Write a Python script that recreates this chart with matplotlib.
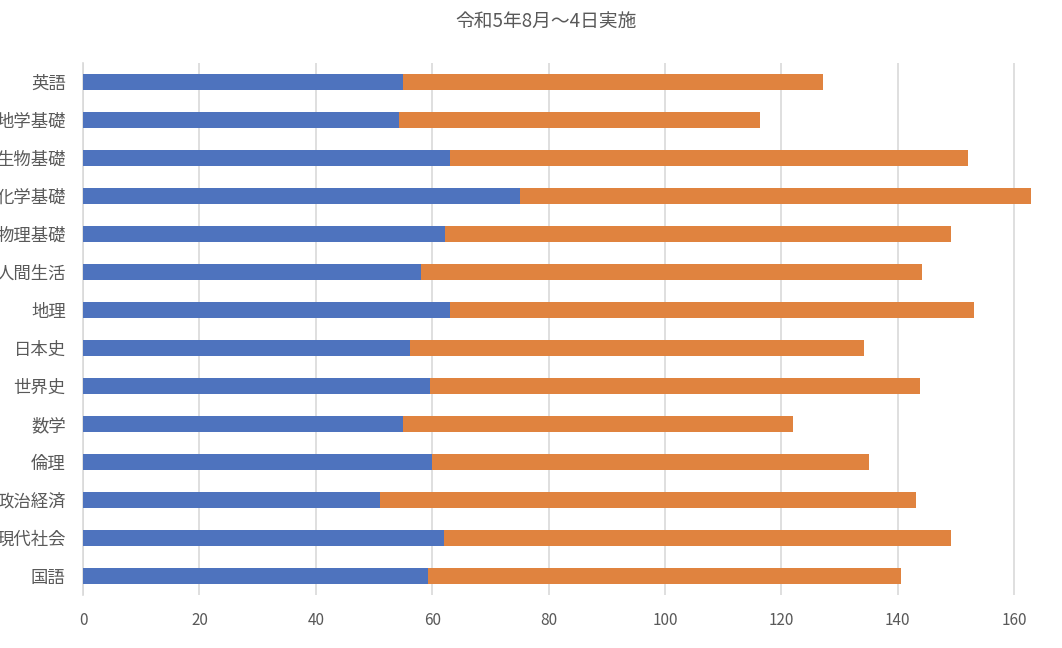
import matplotlib
matplotlib.use("Agg")
import matplotlib.pyplot as plt
import numpy as np

plt.rcParams['font.family'] = ['Noto Sans CJK JP', 'DejaVu Sans']

# subjects, bottom to top
subjects = ["国語", "現代社会", "政治経済", "倫理", "数学", "世界史", "日本史",
            "地理", "人間生活", "物理基礎", "化学基礎", "生物基礎", "地学基礎", "英語"]
blue_vals = [59.3, 62.0, 51.0, 60.0, 55.0, 59.6, 56.2,
             63.1, 58.1, 62.2, 75.1, 63.1, 54.3, 55.0]
orange_vals = [81.3, 87.2, 92.1, 75.0, 66.9, 84.2, 77.9,
               89.9, 86.0, 87.0, 87.8, 88.9, 62.0, 72.1]
x_ticks = [0, 20, 40, 60, 80, 100, 120, 140, 160]

title = "令和5年8月～4日実施"

fig = plt.figure(figsize=(10.62, 6.48), dpi=100)
ax = fig.add_axes([0.0782, 0.0818, 0.9218, 0.821])

y = np.arange(len(subjects))
ax.barh(y, blue_vals, height=0.4, color="#4E73BE", zorder=3)
ax.barh(y, orange_vals, left=blue_vals, height=0.4, color="#E0833F", zorder=3)

ax.set_xlim(0, 168.2)
ax.set_ylim(-0.5, len(subjects) - 0.5)
ax.set_xticks(x_ticks)
ax.set_yticks(y)
ax.set_yticklabels(subjects)

ax.grid(axis="x", color="#D9D9D9", linewidth=1.2, zorder=0)
for s in ["top", "right", "bottom"]:
    ax.spines[s].set_visible(False)
ax.spines["left"].set_color("#D9D9D9")
ax.spines["left"].set_linewidth(1.2)

ax.tick_params(axis="x", length=0, pad=12, labelsize=11, labelcolor="#595959")
ax.tick_params(axis="y", length=0, pad=12.5, labelsize=12.5, labelcolor="#595959")

fig.text(0.514, 0.967, title, ha="center", va="center", fontsize=13.5, color="#595959")

fig.savefig("out.png", dpi=100)
